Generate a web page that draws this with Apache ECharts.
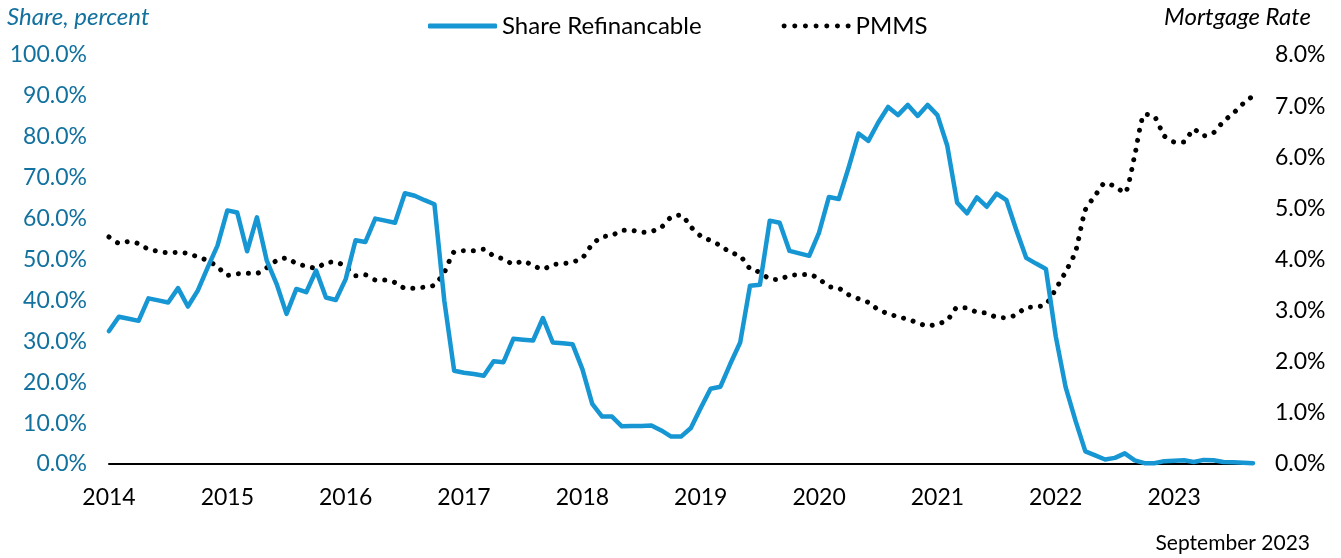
<!DOCTYPE html>
<html>
<head>
<meta charset="utf-8">
<style>
  html, body { margin: 0; padding: 0; background: #fff; }
  #chart { width: 1341px; height: 558px; }
</style>
<script src="https://cdn.jsdelivr.net/npm/echarts@6/dist/echarts.min.js"></script>
</head>
<body>
<div id="chart"></div>
<script>
// monthly data, Jan 2014 .. Sep 2023
var startYear = 2014;
var monthCount = 117;

var shareRefi = [
  32.5, 36, 35.5, 35, 40.5, 40, 39.5, 43, 38.5, 42.4, 48, 53.4,
  62, 61.5, 52, 60.3, 49.7, 44, 36.7, 42.8, 42, 47.3, 40.7, 40.1,
  45.2, 54.7, 54.3, 60, 59.5, 59, 66.2, 65.6, 64.5, 63.5, 39.9, 22.8,
  22.3, 22, 21.6, 25.1, 24.9, 30.6, 30.4, 30.2, 35.7, 29.7, 29.5, 29.3,
  23.2, 14.7, 11.6, 11.6, 9.2, 9.3, 9.3, 9.4, 8.2, 6.7, 6.7, 8.8,
  13.7, 18.4, 18.9, 24.5, 29.7, 43.6, 43.8, 59.5, 59, 52.1, 51.5, 50.9,
  56.6, 65.3, 64.8, 72.5, 80.8, 79, 83.5, 87.3, 85.3, 87.8, 85.1, 87.8,
  85.3, 77.8, 63.9, 61.3, 65.2, 62.9, 66.1, 64.5, 57.2, 50.4, 49, 47.7,
  31.2, 18.8, 10.6, 3.1, 2.1, 1.1, 1.5, 2.6, 0.9, 0.2, 0.2, 0.7,
  0.8, 0.9, 0.5, 1.0, 0.9, 0.5, 0.4, 0.3, 0.2
];

var pmms = [
  4.44, 4.32, 4.35, 4.31, 4.2, 4.16, 4.13, 4.14, 4.12, 4.05, 3.98, 3.86,
  3.69, 3.72, 3.73, 3.73, 3.84, 3.98, 4.03, 3.92, 3.87, 3.83, 3.94, 3.95,
  3.86, 3.68, 3.7, 3.6, 3.6, 3.55, 3.44, 3.44, 3.46, 3.5, 3.75, 4.15,
  4.17, 4.17, 4.2, 4.07, 4.01, 3.91, 3.97, 3.88, 3.81, 3.9, 3.92, 3.95,
  4.03, 4.3, 4.44, 4.47, 4.57, 4.57, 4.53, 4.55, 4.63, 4.83, 4.87, 4.64,
  4.46, 4.37, 4.27, 4.14, 4.07, 3.82, 3.75, 3.62, 3.61, 3.69, 3.7, 3.71,
  3.62, 3.47, 3.44, 3.31, 3.23, 3.16, 3.02, 2.94, 2.88, 2.83, 2.76, 2.7,
  2.74, 2.81, 3.06, 3.05, 2.97, 2.95, 2.87, 2.86, 2.92, 3.06, 3.07, 3.12,
  3.42, 3.76, 4.15, 4.97, 5.25, 5.5, 5.43, 5.3, 6.03, 6.84, 6.8, 6.42,
  6.3, 6.3, 6.55, 6.42, 6.48, 6.7, 6.86, 7.05, 7.2
];

var months = [];
for (var i = 0; i < monthCount; i++) {
  var y = startYear + Math.floor(i / 12);
  var m = (i % 12) + 1;
  months.push(y + '-' + (m < 10 ? '0' + m : m));
}

var font = 'Lato';
var blue = '#1696d2';
var darkBlue = '#12719e';

// legend icon for the dotted series: 7 round dots
var dotsIcon = 'path://';
for (var d = 0; d < 7; d++) {
  var cx = 2.5 + d * 10.67;
  dotsIcon += 'M' + (cx - 2.5) + ' 2.5a2.5 2.5 0 1 0 5 0a2.5 2.5 0 1 0 -5 0z';
}

var myChart = echarts.init(document.getElementById('chart'));
var option = {
  animation: false,
  textStyle: { fontFamily: font },
  grid: { left: 109, right: 88, top: 55, bottom: 94 },
  legend: {
    top: 9,
    left: 423,
    itemWidth: 69,
    itemHeight: 5,
    itemGap: 80,
    textStyle: { fontFamily: font, fontSize: 24, color: '#000' },
    data: [
      { name: 'Share Refinancable', icon: 'roundRect', itemStyle: { color: blue } },
      { name: 'PMMS', icon: dotsIcon, itemStyle: { color: '#000' } }
    ]
  },
  xAxis: {
    type: 'category',
    data: months,
    boundaryGap: false,
    axisLine: { lineStyle: { color: '#000', width: 2 } },
    axisTick: { show: false },
    axisLabel: {
      interval: function (idx) { return idx % 12 === 0; },
      formatter: function (v) { return v.slice(0, 4); },
      color: '#000',
      fontFamily: font,
      fontSize: 23,
      margin: 22
    },
    splitLine: { show: false }
  },
  yAxis: [
    {
      type: 'value',
      min: 0,
      max: 100,
      interval: 10,
      axisLine: { show: false },
      axisTick: { show: false },
      splitLine: { show: false },
      axisLabel: {
        formatter: function (v) { return v.toFixed(1) + '%'; },
        color: darkBlue,
        fontFamily: font,
        fontSize: 23,
        margin: 22
      }
    },
    {
      type: 'value',
      min: 0,
      max: 8,
      interval: 1,
      position: 'right',
      axisLine: { show: false },
      axisTick: { show: false },
      splitLine: { show: false },
      axisLabel: {
        formatter: function (v) { return v.toFixed(1) + '%'; },
        color: '#000',
        fontFamily: font,
        fontSize: 23,
        margin: 22
      }
    }
  ],
  graphic: [
    {
      type: 'text', left: 7, top: 5,
      style: { text: 'Share, percent', fill: darkBlue, font: 'italic 24px Lato' }
    },
    {
      type: 'text', right: 30, top: 5,
      style: { text: 'Mortgage Rate', fill: '#000', font: 'italic 24px Lato' }
    },
    {
      type: 'text', right: 31, top: 533,
      style: { text: 'September 2023', fill: '#000', font: '21px Lato' }
    }
  ],
  series: [
    {
      name: 'Share Refinancable',
      type: 'line',
      yAxisIndex: 0,
      data: shareRefi,
      showSymbol: false,
      symbol: 'none',
      lineStyle: { color: blue, width: 4.5, join: 'round', cap: 'round' },
      itemStyle: { color: blue },
      z: 3
    },
    {
      name: 'PMMS',
      type: 'line',
      yAxisIndex: 1,
      data: pmms,
      showSymbol: false,
      symbol: 'none',
      smooth: 0.2,
      lineStyle: { color: '#000', width: 5, type: [0.01, 10], cap: 'round' },
      itemStyle: { color: '#000' },
      z: 2
    }
  ]
};
myChart.setOption(option);
</script>
</body>
</html>
